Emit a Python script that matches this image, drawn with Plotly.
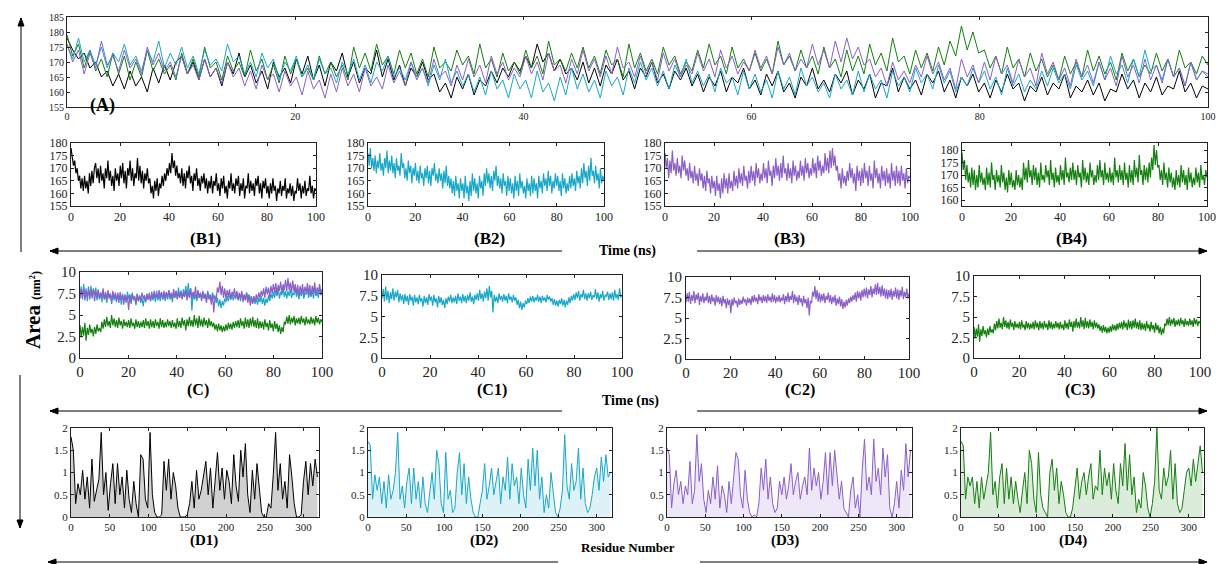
import numpy as np
import plotly.graph_objects as go

# ---------------------------------------------------------
# DATA (0.5 ns / 3 residue spacing)
# ---------------------------------------------------------

# total SASA (nm^2), panels A and B1-B4
sasa_black = [
    178, 174, 171, 173, 168, 170, 165, 167, 162, 166,
    161, 167, 162, 165, 160, 168, 163, 169, 164, 170,
    172, 166, 170, 164, 171, 165, 168, 162, 170, 166,
    173, 165, 169, 163, 167, 161, 170, 165, 168, 163,
    171, 166, 172, 164, 169, 162, 170, 167, 173, 165,
    170, 163, 168, 166, 174, 165, 171, 164, 169, 162,
    168, 165, 170, 164, 166, 160, 163, 158, 165, 161,
    166, 159, 164, 162, 167, 163, 168, 165, 170, 167,
    172, 168, 176, 170, 173, 167, 171, 166, 168, 164,
    170, 163, 168, 162, 169, 166, 171, 164, 167, 161,
    168, 165, 170, 163, 166, 161, 167, 164, 168, 162,
    166, 160, 165, 162, 167, 160, 165, 163, 168, 161,
    164, 159, 166, 162, 167, 160, 163, 158, 165, 162,
    168, 161, 164, 160, 166, 163, 167, 159, 164, 161,
    166, 158, 163, 162, 168, 160, 165, 161, 164, 159,
    166, 163, 167, 160, 164, 158, 165, 162, 166, 160,
    163, 158, 164, 160, 166, 161, 163, 157, 162, 160,
    165, 159, 163, 161, 166, 158, 162, 160, 164, 159,
    163, 157, 161, 160, 166, 161, 164, 158, 163, 160,
    165, 159, 162, 161, 167, 160, 163, 158, 162, 161,
]
sasa_cyan = [
    176, 171, 178, 170, 174, 169, 175, 168, 173, 170,
    176, 169, 172, 167, 174, 170, 177, 168, 173, 169,
    175, 168, 172, 166, 174, 169, 171, 167, 176, 170,
    172, 166, 170, 165, 173, 168, 171, 164, 170, 167,
    172, 165, 169, 164, 171, 166, 168, 163, 170, 166,
    171, 164, 169, 163, 170, 167, 172, 165, 168, 164,
    170, 165, 168, 162, 169, 164, 171, 163, 167, 162,
    166, 160, 165, 159, 167, 161, 164, 158, 166, 161,
    164, 158, 167, 160, 163, 157, 165, 159, 168, 161,
    166, 160, 164, 158, 167, 162, 165, 159, 168, 163,
    170, 164, 168, 162, 167, 161, 169, 165, 171, 163,
    167, 162, 166, 160, 168, 163, 165, 159, 167, 161,
    166, 160, 164, 158, 167, 161, 165, 159, 168, 162,
    165, 160, 163, 158, 166, 161, 164, 159, 167, 160,
    166, 161, 164, 158, 167, 162, 165, 160, 168, 163,
    166, 161, 169, 163, 167, 160, 165, 162, 168, 163,
    167, 161, 165, 159, 168, 162, 166, 160, 164, 161,
    167, 162, 168, 163, 166, 161, 169, 164, 167, 162,
    170, 164, 172, 166, 169, 163, 171, 165, 174, 167,
    169, 164, 171, 165, 168, 162, 170, 164, 167, 165,
]
sasa_purple = [
    176, 170, 174, 166, 173, 168, 177, 169, 172, 167,
    174, 168, 171, 166, 175, 169, 173, 167, 170, 165,
    172, 166, 169, 164, 171, 165, 168, 163, 170, 165,
    168, 162, 167, 161, 169, 164, 166, 160, 167, 162,
    165, 159, 167, 161, 164, 158, 166, 160, 168, 162,
    166, 160, 168, 162, 165, 161, 169, 163, 167, 162,
    170, 164, 168, 163, 171, 165, 167, 162, 169, 164,
    171, 165, 169, 163, 172, 166, 170, 164, 168, 165,
    172, 166, 170, 164, 173, 167, 169, 163, 171, 166,
    174, 167, 171, 165, 172, 166, 175, 168, 170, 165,
    172, 166, 170, 164, 173, 167, 171, 165, 169, 166,
    173, 167, 171, 165, 174, 168, 172, 166, 170, 167,
    174, 168, 172, 166, 175, 169, 173, 167, 171, 168,
    176, 169, 174, 168, 177, 170, 178, 171, 175, 169,
    171, 165, 168, 162, 170, 164, 167, 163, 169, 165,
    172, 166, 170, 164, 168, 161, 171, 165, 169, 163,
    170, 164, 172, 166, 169, 163, 171, 165, 168, 162,
    173, 166, 170, 164, 168, 162, 171, 165, 169, 163,
    170, 164, 168, 162, 172, 165, 169, 163, 171, 164,
    169, 163, 171, 165, 168, 162, 170, 164, 167, 166,
]
sasa_green = [
    179, 172, 176, 168, 174, 167, 171, 165, 173, 166,
    172, 164, 170, 165, 174, 167, 171, 166, 169, 164,
    173, 166, 171, 165, 175, 168, 170, 164, 172, 167,
    170, 165, 174, 167, 171, 164, 169, 163, 172, 166,
    171, 165, 168, 164, 172, 166, 170, 165, 169, 164,
    175, 168, 173, 167, 176, 169, 172, 166, 174, 168,
    173, 166, 171, 165, 175, 168, 170, 167, 174, 169,
    172, 166, 176, 168, 171, 165, 173, 167, 170, 166,
    174, 168, 172, 166, 177, 169, 171, 167, 173, 168,
    175, 168, 172, 166, 174, 169, 171, 165, 176, 168,
    173, 167, 171, 166, 175, 169, 172, 166, 170, 167,
    174, 168, 176, 169, 172, 166, 175, 168, 171, 167,
    173, 167, 171, 166, 177, 169, 172, 167, 174, 168,
    172, 166, 175, 168, 171, 165, 174, 167, 172, 166,
    176, 169, 173, 167, 178, 170, 172, 166, 174, 168,
    173, 167, 175, 169, 177, 172, 182, 174, 180, 173,
    174, 168, 172, 166, 175, 168, 171, 165, 173, 167,
    171, 165, 169, 164, 172, 166, 170, 165, 174, 167,
    172, 166, 170, 164, 173, 167, 171, 165, 169, 166,
    173, 167, 171, 165, 174, 168, 170, 166, 172, 169,
]

# pocket area (nm^2), panels C and C1-C3
area_cyan = [
    7.2, 8.3, 6.8, 8.6, 7.0, 8.1, 6.6, 7.9, 7.1, 8.4,
    6.9, 8.0, 7.3, 8.2, 6.7, 7.8, 6.9, 7.6, 6.5, 7.7,
    6.8, 7.5, 6.4, 7.7, 6.9, 7.4, 6.3, 7.6, 6.7, 7.3,
    6.5, 7.6, 6.8, 7.2, 6.2, 7.5, 6.6, 7.3, 6.4, 7.7,
    6.9, 7.4, 6.3, 7.6, 6.7, 7.2, 6.1, 7.5, 6.6, 7.3,
    6.4, 7.0, 6.0, 7.2, 6.5, 7.4, 6.8, 7.6, 6.6, 7.3,
    6.7, 7.5, 6.5, 7.8, 6.9, 7.4, 6.6, 7.7, 6.8, 7.5,
    6.6, 7.6, 6.9, 7.9, 6.8, 7.4, 6.5, 7.6, 7.0, 7.8,
    6.9, 8.2, 7.1, 7.8, 6.8, 8.0, 7.2, 8.4, 6.9, 8.7,
    7.3, 8.1, 5.5, 7.6, 6.8, 7.4, 6.6, 7.8, 7.0, 7.5,
    6.8, 7.7, 6.9, 7.5, 6.6, 7.8, 7.0, 7.4, 6.7, 7.6,
    6.9, 7.3, 6.4, 7.0, 6.0, 6.8, 5.8, 6.6, 6.1, 6.9,
    6.5, 7.2, 6.6, 7.4, 6.8, 7.5, 6.7, 7.3, 6.9, 7.6,
    6.8, 7.4, 6.6, 7.5, 6.9, 7.3, 6.7, 7.6, 7.0, 7.4,
    6.8, 7.2, 6.4, 7.1, 6.3, 6.9, 6.2, 7.0, 6.5, 7.2,
    6.3, 7.0, 6.1, 6.9, 6.4, 7.3, 6.6, 7.5, 6.9, 7.7,
    7.0, 7.9, 7.2, 8.1, 6.9, 7.7, 7.3, 8.2, 7.1, 7.8,
    6.9, 7.8, 7.2, 8.0, 7.0, 7.6, 7.3, 8.3, 7.1, 7.9,
    6.8, 7.7, 7.2, 8.1, 6.9, 7.6, 7.4, 8.0, 7.0, 7.8,
    7.1, 7.9, 6.9, 8.2, 7.2, 7.7, 7.0, 8.4, 7.3, 7.6,
]
area_purple = [
    6.9, 8.0, 7.0, 8.2, 6.7, 7.8, 7.1, 8.3, 6.8, 7.9,
    7.2, 8.1, 6.6, 7.7, 7.0, 8.0, 6.8, 7.6, 7.1, 8.1,
    6.8, 7.7, 6.7, 7.9, 7.0, 7.5, 6.5, 7.8, 6.9, 7.6,
    6.7, 7.5, 6.4, 7.7, 6.8, 7.3, 6.2, 7.4, 6.6, 7.2,
    5.6, 7.3, 6.5, 7.5, 6.8, 7.1, 6.3, 7.4, 6.6, 7.2,
    6.7, 7.6, 6.9, 7.3, 6.5, 7.5, 6.8, 7.4, 6.6, 7.7,
    6.9, 7.8, 7.0, 7.5, 6.7, 7.9, 7.1, 7.6, 6.8, 7.8,
    7.0, 7.7, 6.8, 7.9, 7.1, 7.6, 6.9, 8.0, 7.0, 7.8,
    6.8, 7.6, 7.0, 7.8, 6.9, 7.5, 7.1, 7.9, 6.7, 7.7,
    7.0, 8.1, 6.9, 7.7, 7.2, 8.3, 6.8, 7.9, 7.0, 7.6,
    6.6, 7.8, 6.9, 7.4, 6.4, 7.7, 6.8, 7.3, 6.2, 7.5,
    5.3, 7.1, 6.8, 8.2, 7.6, 8.9, 7.3, 8.4, 7.0, 8.1,
    6.9, 7.9, 7.1, 8.0, 6.8, 7.7, 7.2, 8.1, 6.9, 7.8,
    6.7, 7.6, 6.9, 7.8, 6.5, 7.4, 6.7, 7.6, 6.4, 7.3,
    6.1, 7.0, 6.3, 7.2, 6.5, 7.4, 6.8, 7.6, 7.0, 7.8,
    7.2, 8.1, 7.0, 8.3, 7.4, 8.2, 7.1, 8.4, 7.5, 8.6,
    7.6, 8.7, 7.4, 8.5, 7.8, 8.9, 7.5, 8.6, 7.9, 9.1,
    7.8, 9.3, 7.9, 8.8, 7.6, 9.0, 7.7, 8.6, 7.4, 8.5,
    7.3, 8.4, 7.5, 8.6, 7.2, 8.3, 7.6, 8.7, 7.4, 8.5,
    7.2, 8.4, 7.6, 8.8, 7.3, 8.2, 7.5, 8.6, 7.4, 8.0,
]
area_green = [
    3.8, 2.4, 3.6, 2.6, 4.1, 2.0, 3.5, 2.7, 3.9, 2.9,
    3.4, 2.5, 3.6, 2.8, 3.9, 3.1, 3.5, 3.0, 4.2, 3.4,
    4.5, 3.6, 4.8, 3.7, 4.3, 3.5, 5.0, 3.8, 4.6, 3.6,
    4.4, 3.5, 4.7, 3.8, 4.3, 3.4, 4.5, 3.7, 4.2, 3.6,
    4.4, 3.5, 4.6, 3.7, 4.1, 3.4, 4.5, 3.6, 4.3, 3.5,
    4.2, 3.6, 4.4, 3.5, 4.6, 3.7, 4.3, 3.4, 4.5, 3.6,
    4.3, 3.5, 4.5, 3.7, 4.2, 3.4, 4.6, 3.6, 4.4, 3.5,
    4.2, 3.6, 4.5, 3.7, 4.3, 3.5, 4.4, 3.6, 4.1, 3.4,
    4.6, 3.6, 4.3, 3.5, 4.7, 3.8, 4.4, 3.2, 4.5, 3.7,
    4.8, 3.7, 4.4, 3.6, 5.0, 3.8, 4.6, 3.5, 4.9, 3.7,
    4.5, 3.6, 4.7, 3.8, 4.4, 3.5, 4.6, 3.7, 4.3, 3.6,
    4.1, 3.3, 3.9, 3.1, 4.0, 3.2, 3.8, 3.0, 3.7, 3.1,
    3.9, 3.2, 4.1, 3.4, 4.0, 3.3, 4.2, 3.5, 4.3, 3.6,
    4.4, 3.5, 4.6, 3.7, 4.3, 3.4, 4.7, 3.6, 4.5, 3.5,
    4.6, 3.7, 4.8, 3.6, 4.4, 3.5, 4.6, 3.4, 4.3, 3.5,
    4.2, 3.3, 4.5, 3.6, 4.1, 3.2, 4.4, 3.5, 4.0, 3.1,
    4.3, 3.4, 4.0, 3.0, 3.8, 2.8, 3.6, 3.0, 4.2, 3.9,
    4.8, 4.0, 5.0, 3.9, 4.7, 4.1, 4.9, 3.8, 4.6, 4.0,
    4.7, 3.9, 4.9, 4.1, 4.6, 3.8, 4.8, 4.0, 4.5, 3.9,
    4.8, 4.0, 4.6, 3.8, 4.9, 4.1, 4.7, 3.9, 4.5, 4.2,
]

# per-residue area (nm^2), panels D1-D4, every 3rd residue
residue_step = 3
res_black = [
    1.80, 1.50, 0.30, 0.75, 0.50, 1.05, 0.40, 0.90, 0.20, 1.30,
    0.35, 0.60, 0.85, 1.90, 0.50, 1.00, 0.15, 0.75, 1.20, 0.30,
    1.20, 0.50, 0.90, 0.20, 1.05, 0.40, 0.10, 0.80, 0.30, 0.00,
    1.40, 1.30, 0.40, 0.20, 1.90, 0.50, 0.10, 0.00, 0.00, 0.05,
    1.25, 0.60, 1.30, 0.40, 1.00, 0.70, 0.20, 0.00, 0.00, 0.00,
    0.05, 0.30, 0.80, 0.20, 1.05, 0.40, 0.60, 0.90, 1.25, 0.50,
    1.10, 0.20, 0.90, 1.45, 0.60, 1.10, 0.40, 1.05, 0.80, 0.30,
    1.40, 0.70, 0.35, 1.50, 0.90, 1.65, 0.50, 0.10, 1.05, 0.40,
    1.20, 0.60, 0.10, 0.00, 0.00, 0.30, 0.20, 0.95, 1.90, 0.60,
    1.20, 0.40, 0.80, 0.20, 1.40, 0.90, 0.30, 0.00, 0.00, 0.05,
    0.80, 1.25, 0.50, 1.20, 0.70, 1.30, 0.90,
]
res_cyan = [
    1.70, 1.60, 0.40, 0.95, 0.60, 0.90, 0.30, 0.80, 0.20, 0.95,
    0.40, 0.60, 1.00, 1.90, 0.40, 0.70, 0.20, 0.80, 1.10, 0.30,
    1.10, 0.40, 0.80, 0.20, 0.90, 0.30, 0.10, 0.60, 1.00, 0.40,
    1.50, 1.20, 0.30, 0.10, 1.45, 0.40, 0.60, 0.10, 0.20, 1.00,
    1.45, 0.50, 1.20, 0.30, 0.90, 0.40, 0.10, 0.00, 0.00, 0.30,
    0.60, 1.20, 0.40, 0.70, 1.10, 0.50, 0.80, 1.10, 0.30, 0.90,
    0.60, 1.35, 0.40, 1.20, 0.70, 0.90, 0.30, 1.10, 0.50, 0.20,
    1.30, 0.60, 1.55, 0.70, 1.50, 0.40, 0.90, 0.10, 0.50, 0.20,
    1.00, 0.60, 0.10, 0.00, 0.20, 0.60, 1.85, 0.70, 0.40, 1.20,
    0.60, 0.80, 1.55, 0.40, 1.10, 0.30, 0.10, 0.20, 0.50, 0.90,
    1.10, 0.60, 1.35, 0.80, 1.40, 0.90, 1.00,
]
res_purple = [
    1.55, 1.40, 0.20, 0.75, 1.05, 0.50, 0.80, 0.30, 0.70, 0.50,
    1.25, 0.30, 0.60, 1.85, 0.80, 1.20, 0.40, 0.10, 0.60, 0.30,
    0.90, 0.40, 1.15, 0.20, 0.70, 0.50, 0.10, 0.80, 0.30, 0.90,
    1.45, 1.30, 0.50, 0.20, 1.05, 0.40, 0.10, 0.00, 0.05, 0.00,
    0.30, 1.10, 0.60, 1.30, 0.40, 0.90, 0.30, 0.10, 0.20, 0.80,
    0.50, 0.90, 0.40, 0.70, 1.20, 0.50, 0.80, 1.00, 0.40, 0.70,
    0.90, 0.50, 1.55, 0.60, 1.10, 0.70, 1.00, 0.40, 0.80, 1.45,
    0.50, 1.45, 0.70, 1.50, 1.00, 0.40, 0.80, 0.20, 0.10, 0.00,
    0.60, 0.90, 0.20, 0.50, 0.00, 1.05, 1.75, 0.60, 0.90, 0.50,
    1.75, 0.80, 1.10, 0.50, 1.55, 0.90, 1.40, 0.20, 0.00, 0.30,
    0.80, 0.20, 1.05, 0.60, 1.65, 0.90, 1.50,
]
res_green = [
    1.70, 1.60, 0.40, 0.90, 0.70, 0.90, 0.30, 0.80, 0.20, 0.90,
    0.40, 0.70, 1.00, 1.90, 0.50, 0.80, 0.20, 0.90, 1.20, 0.30,
    1.10, 0.40, 0.90, 0.30, 0.80, 0.40, 0.10, 0.60, 1.00, 0.30,
    1.50, 1.20, 0.40, 0.10, 1.45, 0.50, 0.20, 0.10, 0.00, 1.00,
    1.30, 0.60, 1.10, 0.30, 0.80, 0.50, 0.10, 0.00, 0.00, 0.20,
    0.60, 1.10, 0.40, 0.80, 1.00, 0.50, 0.90, 1.20, 0.40, 0.70,
    0.60, 1.50, 0.50, 1.10, 0.70, 1.00, 0.40, 1.20, 0.60, 0.30,
    1.20, 0.70, 1.65, 0.60, 1.40, 0.50, 0.90, 0.10, 0.40, 0.20,
    1.00, 0.70, 0.20, 0.00, 0.30, 0.80, 2.00, 0.60, 0.40, 1.10,
    0.70, 0.90, 1.50, 0.40, 1.20, 0.30, 0.10, 0.20, 0.60, 1.00,
    1.10, 0.70, 1.30, 0.80, 1.20, 1.60, 1.00,
]

SIM_LENGTH = 100  # ns

BLACK = "#000000"
CYAN = "#19a7c9"
PURPLE = "#8a5fc8"
GREEN = "#14800f"
FILLS = {
    BLACK: "rgba(0,0,0,0.18)",
    CYAN: "rgba(25,167,201,0.15)",
    PURPLE: "rgba(138,95,200,0.15)",
    GREEN: "rgba(20,128,15,0.15)",
}

FONT = "Liberation Serif, Times New Roman, serif"
W, H = 1218, 564


# =========================================================
# HELPERS
# =========================================================

def _dom_x(left, right):
    return [left / W, right / W]


def _dom_y(top, bottom):
    return [1 - bottom / H, 1 - top / H]


def _time(values):
    return np.linspace(0, SIM_LENGTH, len(values))


def _residues(values):
    return np.arange(len(values)) * residue_step


C_TICKS = dict(range=[0, 10], tickvals=[0, 2.5, 5, 7.5, 10],
               ticktext=["0", "2.5", "5", "7.5", "10"])

# panel: (box in px l, r, t, b), series, colours, kind, y-axis settings, tick font
panels = [
    ((67, 1208, 17, 107), [sasa_black, sasa_green, sasa_cyan, sasa_purple],
     [BLACK, GREEN, CYAN, PURPLE], "time", dict(range=[155, 185], dtick=5), 10),
    ((71, 316, 143, 206), [sasa_black], [BLACK], "time", dict(range=[155, 180], dtick=5), 12),
    ((368, 604, 143, 206), [sasa_cyan], [CYAN], "time", dict(range=[155, 180], dtick=5), 12),
    ((665, 910, 143, 206), [sasa_purple], [PURPLE], "time", dict(range=[155, 180], dtick=5), 12),
    ((962, 1207, 143, 206), [sasa_green], [GREEN], "time",
     dict(range=[157.6, 182.8], tickvals=[160, 165, 170, 175, 180]), 12),
    ((80, 322, 272, 358), [area_green, area_cyan, area_purple], [GREEN, CYAN, PURPLE], "time", C_TICKS, 15),
    ((382, 622, 275, 358), [area_cyan], [CYAN], "time", C_TICKS, 15),
    ((686, 909, 277, 359), [area_purple], [PURPLE], "time", C_TICKS, 15),
    ((974, 1200, 276, 358), [area_green], [GREEN], "time", C_TICKS, 15),
    ((71, 319, 428, 517), [res_black], [BLACK], "residue", dict(range=[0, 2], dtick=0.5), 11),
    ((368, 612, 428, 517), [res_cyan], [CYAN], "residue", dict(range=[0, 2], dtick=0.5), 11),
    ((667, 912, 428, 517), [res_purple], [PURPLE], "residue", dict(range=[0, 2], dtick=0.5), 11),
    ((961, 1204, 428, 517), [res_green], [GREEN], "residue", dict(range=[0, 2], dtick=0.5), 11),
]

fig = go.Figure()
layout = {}

for i, (box, series, colors, kind, ycfg, fsize) in enumerate(panels):
    n = i + 1
    suffix = "" if n == 1 else str(n)
    left, right, top, bottom = box

    for values, color in zip(series, colors):
        if kind == "time":
            fig.add_trace(go.Scatter(
                x=_time(values), y=values, mode="lines",
                line=dict(color=color, width=1 if n == 1 else 1.2),
                xaxis="x" + suffix, yaxis="y" + suffix, hoverinfo="skip",
            ))
        else:
            fig.add_trace(go.Scatter(
                x=_residues(values), y=values, mode="lines",
                line=dict(color=color, width=1),
                fill="tozeroy", fillcolor=FILLS[color],
                xaxis="x" + suffix, yaxis="y" + suffix, hoverinfo="skip",
            ))

    common = dict(
        showline=True, linecolor="#222", linewidth=1, mirror="ticks",
        ticks="inside", ticklen=3, tickcolor="#222", showgrid=False,
        zeroline=False, tickfont=dict(family=FONT, size=fsize, color="#222"),
    )
    if kind == "time":
        xcfg = dict(range=[0, 100], dtick=20)
    else:
        xcfg = dict(range=[0, 320], tickvals=[0, 50, 100, 150, 200, 250, 300])

    layout["xaxis" + suffix] = dict(domain=_dom_x(left, right), anchor="y" + suffix, **xcfg, **common)
    layout["yaxis" + suffix] = dict(domain=_dom_y(top, bottom), anchor="x" + suffix, **ycfg, **common)

fig.update_layout(**layout)


# =========================================================
# LABELS AND ARROWS
# =========================================================

def _text(txt, x, y, size=18, angle=0):
    fig.add_annotation(
        text=txt, x=x / W, y=1 - y / H, xref="paper", yref="paper",
        showarrow=False, textangle=angle,
        font=dict(family=FONT, size=size, color="black"),
    )


def _arrow(x_head, y_head, x_tail, y_tail, length=8, half=3):
    # shaft
    fig.add_shape(
        type="line", xref="paper", yref="paper",
        x0=x_tail / W, y0=1 - y_tail / H, x1=x_head / W, y1=1 - y_head / H,
        line=dict(color="black", width=1),
    )
    # head, drawn as a small filled triangle (pixel units -> paper)
    dx, dy = x_head - x_tail, y_head - y_tail
    norm = (dx ** 2 + dy ** 2) ** 0.5
    ux, uy = dx / norm, dy / norm
    bx, by = x_head - length * ux, y_head - length * uy
    pts = [(x_head, y_head), (bx - half * uy, by + half * ux), (bx + half * uy, by - half * ux)]
    path = "M " + " L ".join("%.5f,%.5f" % (px / W, 1 - py / H) for px, py in pts) + " Z"
    fig.add_shape(type="path", xref="paper", yref="paper", path=path,
                  fillcolor="black", line=dict(color="black", width=1))


_text("<b>(A)</b>", 88, 93)
for label, x in [("(B1)", 188), ("(B2)", 489), ("(B3)", 789), ("(B4)", 1089)]:
    _text("<b>%s</b>" % label, x, 239, 17)
for label, x in [("(C)", 185), ("(C1)", 492), ("(C2)", 800), ("(C3)", 1097)]:
    _text("<b>%s</b>" % label, x, 401, 16)
for label, x in [("(D1)", 188), ("(D2)", 484), ("(D3)", 785), ("(D4)", 1089)]:
    _text("<b>%s</b>" % label, x, 551, 15)

_text("<b>Time (ns)</b>", 627, 251, 14)
_arrow(50, 251, 562, 251)
_arrow(1207, 251, 697, 251)

_text("<b>Time (ns)</b>", 630, 411, 14)
_arrow(50, 411, 562, 411)
_arrow(1207, 411, 697, 411)

_text("<b>Residue Number</b>", 628, 557, 13)
_arrow(48, 562, 558, 562)
_arrow(1207, 562, 700, 562)

_text("<b>Area</b> <span style='font-size:12px'><b>(nm<sup>2</sup>)</b></span>", 19, 310, 21, -90)
_arrow(21, 18, 21, 252)
_arrow(20, 528, 20, 375)

fig.update_layout(
    width=W, height=H,
    margin=dict(l=0, r=0, t=0, b=0, autoexpand=False),
    paper_bgcolor="white", plot_bgcolor="white",
    showlegend=False,
)

fig.write_html(
    "out.html",
    config={"displayModeBar": False},
    post_script="document.body.style.margin='0';",
)
